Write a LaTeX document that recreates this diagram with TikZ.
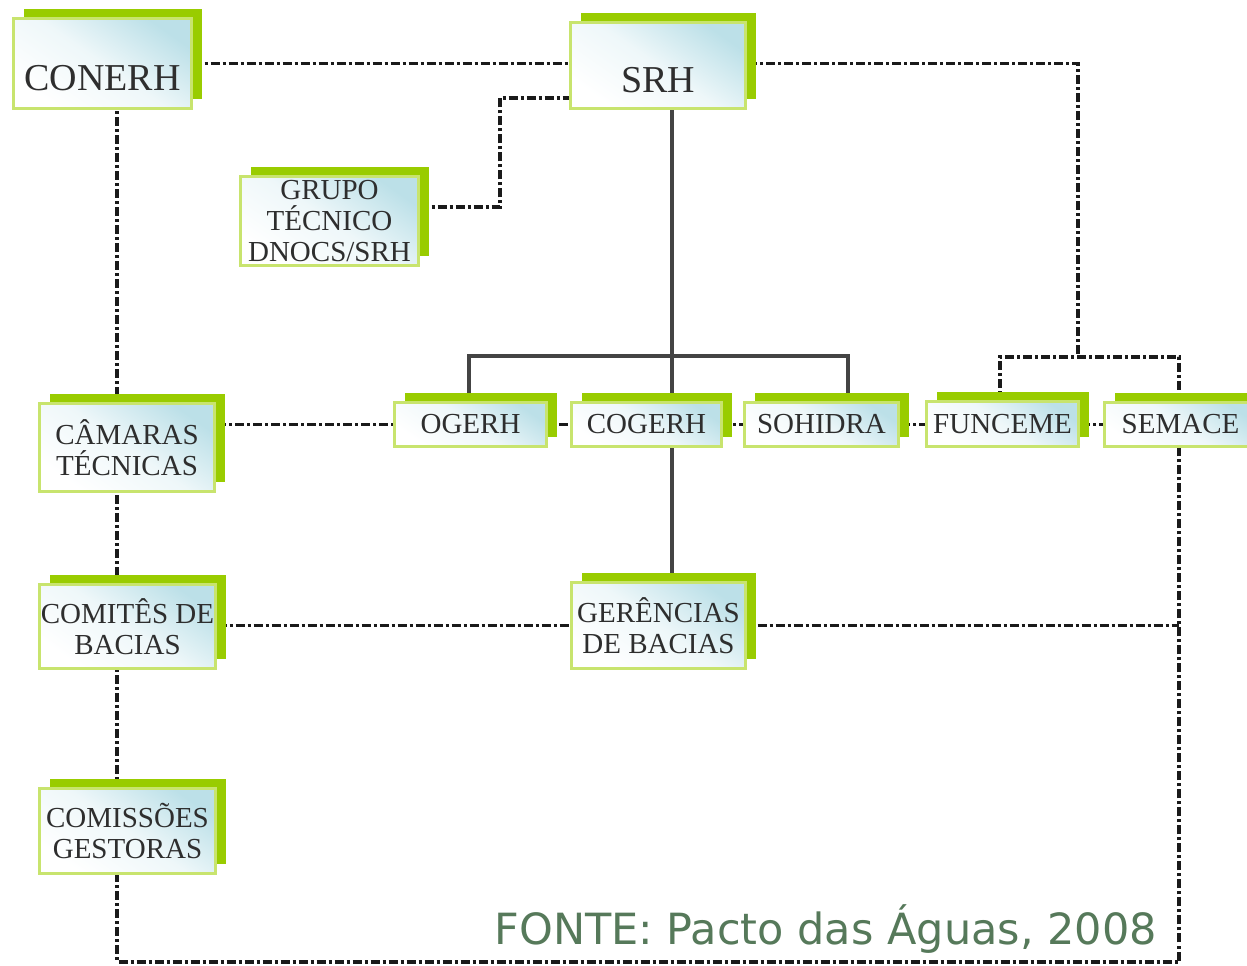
\documentclass[tikz,border=0pt]{standalone}
\usepackage{fontspec}
\setmainfont{Liberation Serif}
\newfontfamily\fontefont{DejaVu Sans}
\usetikzlibrary{shadows,backgrounds,calc}
\definecolor{limeg}{HTML}{99CC00}
\definecolor{lightg}{HTML}{C8E46E}
\definecolor{boxblue}{HTML}{BCE0E8}
\definecolor{txtgray}{HTML}{2E2E2E}
\definecolor{fontegreen}{HTML}{56795A}
\definecolor{linedark}{HTML}{1A1A1A}
\definecolor{linesolid}{HTML}{444444}
\tikzset{
  orgbox/.style={draw=lightg, line width=3pt, top color=boxblue, bottom color=white,
    middle color=white!75!boxblue, shading angle=-35,
    general shadow={fill=limeg, draw=none, shadow xshift=10pt, shadow yshift=9pt},
    font=\fontsize{29}{31}\selectfont, text=txtgray, align=center, inner sep=0pt},
  biglabel/.style={font=\fontsize{38}{40}\selectfont, text=txtgray, yshift=-15pt},
  dd/.style={draw=linedark, line width=3.5pt, dash pattern=on 9pt off 3pt on 3pt off 3pt},
  solidline/.style={draw=linesolid, line width=3.5pt},
}
\begin{document}
\begin{tikzpicture}[x=1pt,y=1pt]
\begin{pgfonlayer}{background}
\fill[white] (0,0) rectangle (1247,966);
\end{pgfonlayer}
\useasboundingbox (0,0) rectangle (1247,966);

% boxes
\node[orgbox, minimum width=178pt, minimum height=90pt,
      label={[biglabel]center:CONERH}] (CONERH) at (102.5,902.5) {};
\node[orgbox, minimum width=175pt, minimum height=86pt,
      label={[biglabel]center:SRH}] (SRH) at (658,900.5) {};
\node[orgbox, minimum width=178pt, minimum height=89pt] (GRUPO) at (329.5,745) {GRUPO\\TÉCNICO\\DNOCS/SRH};
\node[orgbox, minimum width=175pt, minimum height=88pt] (CAM) at (127,518.5) {CÂMARAS\\TÉCNICAS};
\node[orgbox, minimum width=176pt, minimum height=84pt] (COMITES) at (127.5,339.5) {COMITÊS DE\\BACIAS};
\node[orgbox, minimum width=174pt, minimum height=86pt] (GER) at (658.5,340.5) {GERÊNCIAS\\DE BACIAS};
\node[orgbox, minimum width=176pt, minimum height=85pt] (COMISS) at (127.5,135) {COMISSÕES\\GESTORAS};
\node[orgbox, minimum width=152pt, minimum height=44pt] (OGERH) at (470.5,541.5) {OGERH};
\node[orgbox, minimum width=150pt, minimum height=44pt] (COGERH) at (646.5,541.5) {COGERH};
\node[orgbox, minimum width=154pt, minimum height=44pt] (SOHIDRA) at (821.5,541.5) {SOHIDRA};
\node[orgbox, minimum width=152pt, minimum height=45pt] (FUNCEME) at (1002.5,542) {FUNCEME};
\node[orgbox, minimum width=152pt, minimum height=44pt] (SEMACE) at (1180.5,541.5) {SEMACE};

\node[font=\fontefont\fontsize{43}{45}\selectfont, text=fontegreen, anchor=base east, inner sep=0pt]
  (FONTE) at (1157,21) {FONTE: Pacto das Águas, 2008};

% helper coordinates
\coordinate (brk) at (1078,609);
\coordinate (brk2) at (1000,609);
\coordinate (gk) at (500,868);
\coordinate (trunk) at (672,610);
\coordinate (barl) at (469,610);
\coordinate (barr) at (848,610);
\coordinate (lb) at (117,4);
\coordinate (rb) at (1179,4);

\begin{pgfonlayer}{background}
% dash-dot connectors
\draw[dd] (CONERH.center) -- (CONERH.center -| SRH.center);
\draw[dd] (SRH.center |- CONERH.center) -- (CONERH.center -| brk) -- (brk);
\draw[dd] (FUNCEME.center -| brk2) -- (brk2) -- (brk2 -| rb) -- (SEMACE.center -| rb);
\draw[dd] ([yshift=14pt]GRUPO.center) -| (gk) -- (gk -| SRH.center);
\draw[dd] (CAM.center |- OGERH.center) -- (SEMACE.center);
\draw[dd] (COMITES.center |- GER.center) -- (GER.center) -- (GER.center -| rb);
\draw[dd] (CONERH.center -| lb) -- (lb) -- (rb) -- (SEMACE.center -| rb);
% solid connectors
\draw[solidline] (SRH.center -| trunk) -- (GER.center -| trunk);
\draw[solidline] (OGERH.center -| barl) |- (barr) -- (SOHIDRA.center -| barr);
\end{pgfonlayer}
\end{tikzpicture}
\end{document}
